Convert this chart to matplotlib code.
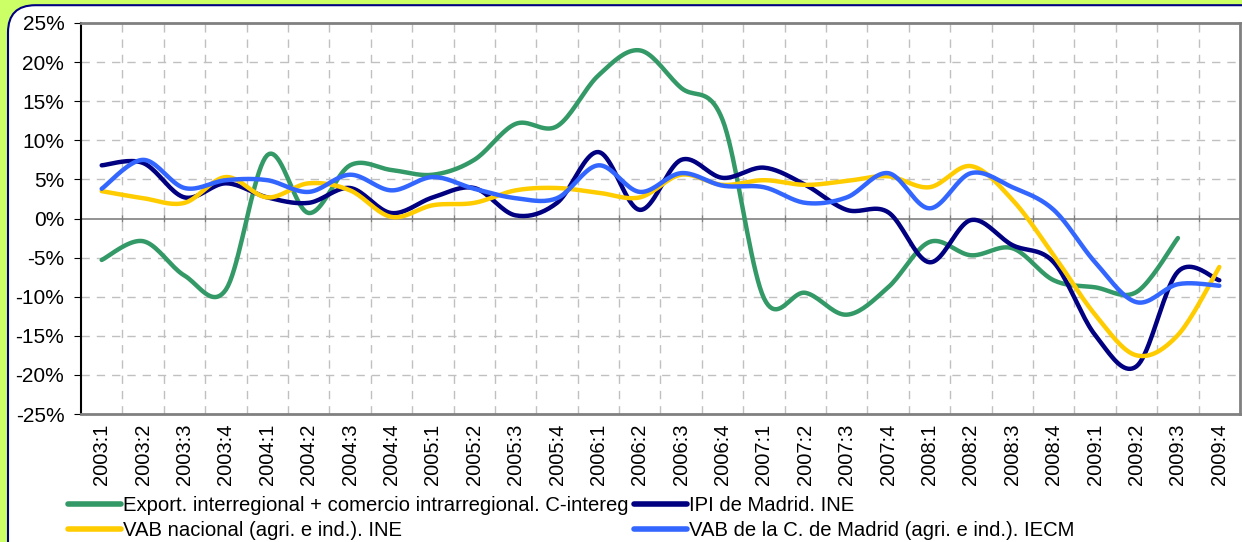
import numpy as np
import matplotlib
matplotlib.use('Agg')
from matplotlib import pyplot as plt
from matplotlib.patches import FancyBboxPatch

plt.rcParams['font.family'] = ['Liberation Sans', 'DejaVu Sans']

quarters = ['2003:1','2003:2','2003:3','2003:4','2004:1','2004:2','2004:3','2004:4',
            '2005:1','2005:2','2005:3','2005:4','2006:1','2006:2','2006:3','2006:4',
            '2007:1','2007:2','2007:3','2007:4','2008:1','2008:2','2008:3','2008:4',
            '2009:1','2009:2','2009:3','2009:4']

export = [-5.3, -2.9, -7.3, -9.1, 8.1, 0.7, 6.8, 6.2, 5.6, 7.5, 12.1, 11.8,
          18.3, 21.5, 16.7, 12.6, -10.2, -9.5, -12.3, -8.8, -3.0, -4.7, -3.8, -7.9,
          -8.8, -9.4, -2.5]
ipi = [6.8, 7.1, 2.7, 4.5, 2.7, 2.0, 3.9, 0.7, 2.7, 3.9, 0.4, 2.0,
       8.5, 1.1, 7.5, 5.2, 6.5, 4.3, 1.1, 0.8, -5.6, -0.2, -3.4, -5.6,
       -14.9, -18.9, -6.8, -7.9]
vab_nac = [3.5, 2.6, 2.0, 5.3, 2.7, 4.5, 3.6, 0.2, 1.7, 2.0, 3.6, 3.9,
           3.3, 2.7, 5.6, 4.3, 4.9, 4.3, 4.8, 5.4, 4.0, 6.7, 2.4, -4.7,
           -12.3, -17.5, -14.9, -6.2]
vab_mad = [3.8, 7.5, 3.9, 4.9, 4.9, 3.4, 5.6, 3.6, 5.3, 3.8, 2.6, 2.6,
           6.8, 3.4, 5.8, 4.2, 4.0, 2.0, 2.7, 5.8, 1.3, 5.8, 4.0, 1.1,
           -5.6, -10.7, -8.4, -8.6]

labels = ['Export. interregional + comercio intrarregional. C-intereg',
          'IPI de Madrid. INE',
          'VAB nacional (agri. e ind.). INE',
          'VAB de la C. de Madrid (agri. e ind.). IECM']
colors = ['#339966', '#000080', '#FFCC00', '#3366FF']


def smooth(y, n=20):
    # excel-like smoothed line (catmull-rom between the points)
    y = np.asarray(y, float)
    x = np.arange(len(y), dtype=float)
    px = np.concatenate([[x[0]], x, [x[-1]]])
    py = np.concatenate([[y[0]], y, [y[-1]]])
    xs, ys = [], []
    t = np.linspace(0, 1, n, endpoint=False)
    for i in range(1, len(px) - 2):
        for arr, out in ((px, xs), (py, ys)):
            p0, p1, p2, p3 = arr[i-1], arr[i], arr[i+1], arr[i+2]
            c1 = p1 + (p2 - p0) / 6
            c2 = p2 - (p3 - p1) / 6
            out.extend((1-t)**3*p1 + 3*(1-t)**2*t*c1 + 3*(1-t)*t**2*c2 + t**3*p2)
    xs.append(x[-1]); ys.append(y[-1])
    return np.array(xs), np.array(ys)


fig = plt.figure(figsize=(12.42, 5.42), dpi=100)
fig.patch.set_facecolor('#CCFF66')
box = FancyBboxPatch((8/1242, -0.1), 1.1, (537+54)/542, boxstyle='round,pad=0,rounding_size=0.022',
                     transform=fig.transFigure, facecolor='white', edgecolor='#000080',
                     linewidth=1.5, mutation_aspect=1242/542, zorder=-5)
fig.patches.append(box)

ax = fig.add_axes([81/1242, 128/542, 1159/1242, 391/542])
ax.set_facecolor('white')

for y, lab, c in zip([export, ipi, vab_nac, vab_mad], labels, colors):
    sx, sy = smooth(y)
    ax.plot(sx, sy, color=c, lw=3.2, label=lab, solid_capstyle='round', zorder=3)

ax.set_xlim(-0.5, len(quarters) - 0.5)
ax.set_ylim(-25, 25)
ax.set_yticks(np.arange(-25, 26, 5))
ax.set_yticklabels([f'{v}%' for v in range(-25, 26, 5)], fontsize=15)
ax.set_xticks(range(len(quarters)))
ax.set_xticklabels(quarters, rotation=90, fontsize=14.5)
ax.tick_params(axis='x', length=0, pad=7)
ax.tick_params(axis='y', length=5, direction='out', color='black', pad=7)

for v in np.arange(0.5, len(quarters) - 0.5):
    ax.axvline(v, color='#C0C0C0', lw=1, ls=(0, (6, 5)), zorder=1)
for v in range(-20, 25, 5):
    if v != 0:
        ax.axhline(v, color='#C0C0C0', lw=1, ls=(0, (6, 5)), zorder=1)
ax.axhline(0, color='#808080', lw=1.2, zorder=2)
ax.vlines(np.arange(0.5, len(quarters) - 0.5), -0.5, 0.5, color='#808080', lw=1, zorder=2)

for s in ['top', 'right', 'bottom']:
    ax.spines[s].set_color('#808080')
    ax.spines[s].set_linewidth(2)
ax.spines['left'].set_color('black')
ax.spines['left'].set_linewidth(1.5)

h, l = ax.get_legend_handles_labels()
order = [0, 2, 1, 3]
leg = fig.legend([h[i] for i in order], [l[i] for i in order], ncol=2, frameon=False,
                 loc='lower left', bbox_to_anchor=(60/1242, -0.012), fontsize=14.6,
                 handlelength=2.6, handletextpad=0.1, columnspacing=0.3, labelspacing=0.3,
                 borderaxespad=0)
for ln in leg.get_lines():
    ln.set_linewidth(4)

fig.savefig('out.png', dpi=100, facecolor=fig.get_facecolor())
